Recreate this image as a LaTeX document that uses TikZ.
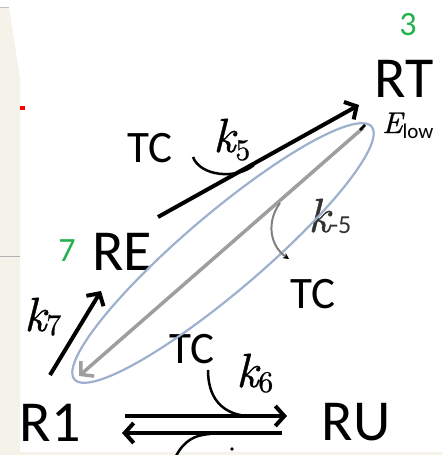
\documentclass[tikz,border=0pt]{standalone}
\usepackage{fontspec}
\newfontfamily\calib{Carlito}
\newfontfamily\kfont{lmroman10-italic.otf}[FakeBold=0.7]
\newfontfamily\dfont{lmroman10-regular.otf}[FakeBold=0.6]
\usetikzlibrary{arrows.meta}
\definecolor{grn}{RGB}{34,177,76}
\definecolor{ellc}{RGB}{157,176,206}
\definecolor{paper}{RGB}{245,242,234}
\definecolor{gline}{RGB}{158,158,158}
\begin{document}
\begin{tikzpicture}[x=1pt,y=-1pt,
  big/.style={font=\calib\fontsize{58}{58}\selectfont, inner sep=0pt, anchor=base},
  tcl/.style={font=\calib\fontsize{45}{45}\selectfont, inner sep=0pt, anchor=base},
  num/.style={font=\calib\fontsize{34}{34}\selectfont, text=grn, inner sep=0pt, anchor=base},
  kk/.style={font=\kfont\fontsize{48}{48}\selectfont, inner sep=0pt, anchor=base west},
  blk/.style={line width=4pt, -{Straight Barb[length=9pt,width=20pt]}},
  garr/.style={gline, line width=3.5pt, -{Straight Barb[length=9pt,width=20pt]}},
  arcl/.style={line width=2.5pt}]
\useasboundingbox (0,0) rectangle (442,455);
% background paper
\fill[paper] (0,7) -- (9,7) -- (20,78) -- (20,455) -- (0,455) -- cycle;
\fill[paper] (0,452) rectangle (442,455);
\draw[gray!50, line width=0.8pt] (0,7) -- (9,7);
\draw[gray!60, line width=1pt] (0,256.5) -- (20,256.5);
\fill[red] (20,106) rectangle (25,110);
% species
\node[big] (RT) at (404,97) {RT};
\node[num] (n3) at (408,35) {3};
\node[big] (RE) at (122,270) {RE};
\node[num] (n7) at (67,261) {7};
\node[big] (R1) at (50,441) {R1};
\node[big] (RU) at (356,440) {RU};
\node[tcl] (tc1) at (150,162) {TC};
\node[tcl] (tc2) at (313,308) {TC};
\node[tcl] (tc3) at (192,363) {TC};
% rate labels
\node[kk] (k5) at (213,152) {k\raisebox{-8pt}{\dfont\fontsize{30}{30}\selectfont 5}};
\node[kk] (k7) at (24,331) {k\raisebox{-4pt}{\dfont\fontsize{30}{30}\selectfont 7}};
\node[kk] (k6) at (236,387) {k\raisebox{-5pt}{\dfont\fontsize{30}{30}\selectfont 6}};
\node[kk, text=black!80] (km5) at (308,232) {k\raisebox{-1pt}{\calib\fontsize{26}{26}\selectfont -5}};
\node[anchor=base west, inner sep=0pt] (El) at (382,133) {\kfont\fontsize{30}{30}\selectfont E\raisebox{-5pt}{\calib\fontsize{21}{21}\selectfont low}};
% ellipse
\draw[ellc, line width=2.2pt] plot[domain=0:360, samples=120, smooth cycle, variable=\t]
  ({223+195*cos(\t)*0.762+39*sin(\t)*0.648}, {253-195*cos(\t)*0.648+39*sin(\t)*0.762});
% connectors
\coordinate (a1s) at (158,217); \coordinate (a1e) at (359,105);
\draw[blk] (a1s) -- (a1e);
\coordinate (a7s) at (50,375); \coordinate (a7e) at (101,291);
\draw[blk] (a7s) -- (a7e);
\coordinate (gs) at (363,128); \coordinate (ge) at (79,376);
\draw[garr] (gs) -- (ge);
\draw[line width=2.5pt] (360,130) -- (365,125);
\coordinate (u1) at (125,416); \coordinate (u2) at (287,416);
\draw[blk] (u1) -- (u2);
\coordinate (l1) at (282,433); \coordinate (l2) at (122,433);
\draw[blk] (l1) -- (l2);
% catalysis arcs
\draw[arcl] (193,157) .. controls (200,176) and (236,180) .. (254,165);
\draw[arcl] (208,370) .. controls (208,396) and (220,413) .. (246,416);
\draw[arcl] (176,456) .. controls (184,441) and (194,435) .. (210,434);
\draw[gray, line width=2pt, -{Stealth[length=6pt,width=6pt,black]}] (280,203) .. controls (266,222) and (270,246) .. (289,259);
\fill (232,449) circle (1.8pt);
\end{tikzpicture}
\end{document}
